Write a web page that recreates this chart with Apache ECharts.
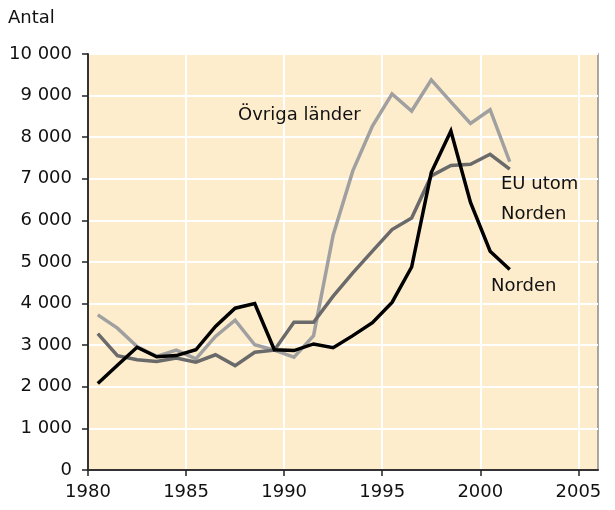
<!DOCTYPE html>
<html>
<head>
<meta charset="utf-8">
<script src="https://cdn.jsdelivr.net/npm/echarts@6/dist/echarts.min.js"></script>
<style>
  html, body { margin: 0; padding: 0; background: #fff; }
  #chart { width: 615px; height: 510px; }
</style>
</head>
<body>
<div id="chart"></div>
<script>
// år 1980-2001
const years = [1980, 1981, 1982, 1983, 1984, 1985, 1986, 1987, 1988, 1989, 1990,
  1991, 1992, 1993, 1994, 1995, 1996, 1997, 1998, 1999, 2000, 2001];

const norden = [2080, 2520, 2950, 2720, 2750, 2890, 3450, 3890, 4000, 2890, 2870,
  3030, 2940, 3230, 3540, 4030, 4880, 7150, 8150, 6430, 5260, 4820];

const euUtomNorden = [3280, 2750, 2650, 2610, 2690, 2590, 2770, 2510, 2830, 2880, 3550,
  3550, 4180, 4740, 5260, 5780, 6060, 7070, 7320, 7350, 7590, 7230];

const ovrigaLander = [3730, 3410, 2970, 2730, 2880, 2670, 3210, 3600, 3010, 2880, 2710,
  3230, 5650, 7190, 8270, 9040, 8630, 9380, 8850, 8330, 8660, 7410];

const xTicks = [1980, 1985, 1990, 1995, 2000, 2005];

// punkterna ligger mitt i varje år (som i Excel)
const toPoints = vals => vals.map((v, i) => [years[i] + 0.5, v]);

const FONT = 'DejaVu Sans, Liberation Sans, Arial, sans-serif';

const chart = echarts.init(document.getElementById('chart'));

const lineSeries = (name, vals, color) => ({
  name: name,
  type: 'line',
  data: toPoints(vals),
  showSymbol: false,
  symbol: 'none',
  lineStyle: { color: color, width: 3.5, join: 'miter' },
  itemStyle: { color: color },
  z: 3
});

chart.setOption({
  animation: false,
  grid: {
    left: 88, right: 17, top: 54, bottom: 40,
    show: true,
    backgroundColor: '#fdedcd',
    borderColor: '#8c8c8c',
    borderWidth: 1.5
  },
  xAxis: {
    type: 'value',
    min: 1980,
    max: 2006,
    interval: 5,
    axisLine: { show: true, onZero: false, lineStyle: { color: '#333', width: 2 } },
    axisTick: { show: true, inside: false, length: 6, customValues: xTicks, lineStyle: { color: '#222', width: 1.5 } },
    axisLabel: {
      customValues: xTicks,
      margin: 13,
      color: '#111',
      fontSize: 18,
      fontFamily: FONT,
      formatter: v => String(v)
    },
    splitLine: { show: true, lineStyle: { color: '#fff', width: 2 } }
  },
  yAxis: {
    type: 'value',
    min: 0,
    max: 10000,
    interval: 1000,
    axisLine: { show: true, lineStyle: { color: '#333', width: 2 } },
    axisTick: { show: true, inside: false, length: 6, lineStyle: { color: '#222', width: 1.5 } },
    axisLabel: {
      margin: 16,
      color: '#111',
      fontSize: 18,
      fontFamily: FONT,
      formatter: v => String(v).replace(/\B(?=(\d{3})+(?!\d))/g, ' ')
    },
    splitLine: { show: true, lineStyle: { color: '#fff', width: 2 } }
  },
  graphic: [
    { type: 'text', left: 8, top: 9, style: { text: 'Antal', font: '18px ' + FONT, fill: '#111' } },
    { type: 'text', left: 238, top: 106, style: { text: 'Övriga länder', font: '18px ' + FONT, fill: '#111' }, z: 10 },
    { type: 'text', left: 501, top: 175, style: { text: 'EU utom', font: '18px ' + FONT, fill: '#111' }, z: 10 },
    { type: 'text', left: 501, top: 205, style: { text: 'Norden', font: '18px ' + FONT, fill: '#111' }, z: 10 },
    { type: 'text', left: 491, top: 277, style: { text: 'Norden', font: '18px ' + FONT, fill: '#111' }, z: 10 }
  ],
  series: [
    lineSeries('Övriga länder', ovrigaLander, '#a0a0a0'),
    lineSeries('EU utom Norden', euUtomNorden, '#6a6a6a'),
    lineSeries('Norden', norden, '#000000')
  ]
});
</script>
</body>
</html>
